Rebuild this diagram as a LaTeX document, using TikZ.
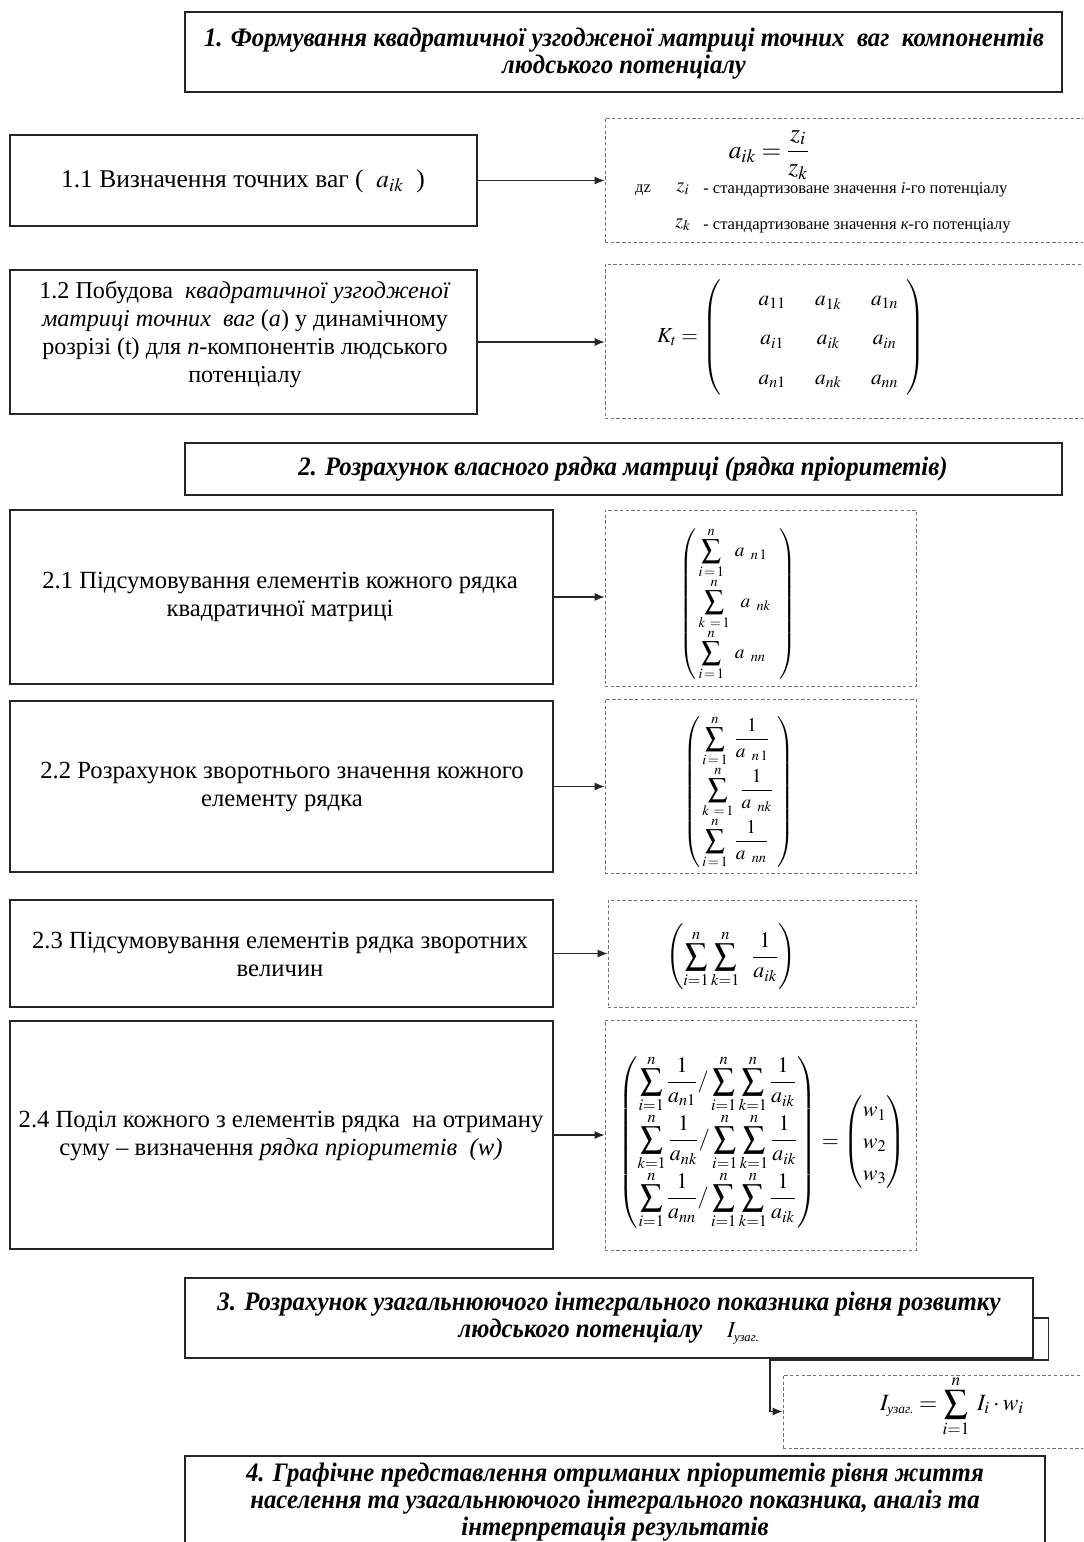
\documentclass[tikz,border=0pt]{standalone}
\usepackage{amsmath}
\usepackage{mathptmx}
\usepackage{fontspec}
\setmainfont{Liberation Serif}
\newfontfamily\bodyfont[Ligatures=TeX]{Liberation Serif}
\newfontfamily\hdfont[FakeStretch=0.93,Ligatures=TeX]{Liberation Serif}
\usetikzlibrary{arrows.meta,fit}
\tikzset{
  box/.style={draw=black!85, line width=0.9pt, inner sep=0pt},
  dbox/.style={draw=black!55, dash pattern=on 2.5pt off 1.8pt, line width=0.6pt, inner sep=0pt},
  arr/.style={-{Latex[length=7.5pt,width=6pt]}, line width=0.8pt, draw=black!85},
  hd/.style={align=center, inner sep=0pt, font=\hdfont\bfseries\itshape\fontsize{20}{20.25}\selectfont},
  bt/.style={align=center, inner sep=0pt, font=\bodyfont\fontsize{18.5}{21}\selectfont},
  sm/.style={font=\bodyfont\fontsize{12.4}{14}\selectfont, inner sep=0pt},
  fm/.style={inner sep=0pt, font=\bodyfont\fontsize{15}{18}\selectfont}
}
\begin{document}
\begin{tikzpicture}[x=0.75pt,y=-0.75pt]
\clip (0,0) rectangle (1083,1542);
\fill[white] (0,0) rectangle (1083,1542);

% ---- Header 1
\node[box, fit={(185,12) (1062,92)}] (h1) {};
\node[hd] (h1t) at (624,53.5) {1. Формування квадратичної узгодженої матриці точних\ \ ваг\ \ компонентів\\людського потенціалу};

% ---- 1.1
\node[box, fit={(10,135) (477,226)}] (b11) {};
\node[bt, font=\bodyfont\fontsize{19.1}{22}\selectfont] (b11t) at (243,181) {1.1 Визначення точних ваг (\ \ $a_{ik}$\ \ )};
\node[dbox, fit={(605,118) (1090,242)}] (d11) {};
\node[fm, font=\bodyfont\fontsize{19}{22}\selectfont] (f11) at (769,155) {$a_{ik}=\dfrac{z_i}{z_k}$};
\node[sm] (de) at (643,190) {дz};
\node[fm] (zi) at (683,189) {$z_i$};
\node[sm, anchor=west] (t1) at (703,190) {- стандартизоване значення \textit{i}-го потенціалу};
\node[fm] (zk) at (683,225) {$z_k$};
\node[sm, anchor=west] (t2) at (703,226) {- стандартизоване значення \textit{к}-го потенціалу};

% ---- 1.2
\node[box, fit={(10,270) (477,414)}] (b12) {};
\node[bt, font=\bodyfont\fontsize{18.1}{21}\selectfont] (b12t) at (245,334) {1.2 Побудова\ \ \textit{квадратичної узгодженої}\\\textit{матриці точних\ \ ваг} (\textit{а}) у динамічному\\розрізі (t) для \textit{n}-компонентів людського\\потенціалу};
\node[dbox, fit={(605,264) (1090,418)}] (d12) {};
\node[fm, font=\bodyfont\fontsize{16}{19}\selectfont] (f12) at (791,337) {$K_t=\left(\renewcommand{\arraystretch}{1.55}\begin{array}{@{\hspace{28pt}}c@{\hspace{22pt}}c@{\hspace{22pt}}c@{\hspace{6pt}}}a_{11}&a_{1k}&a_{1n}\\a_{i1}&a_{ik}&a_{in}\\a_{n1}&a_{nk}&a_{nn}\end{array}\right)$};

% ---- Header 2
\node[box, fit={(185,443) (1062,495)}] (h2) {};
\node[hd] (h2t) at (623,469) {2. Розрахунок власного рядка матриці (рядка пріоритетів)};

% ---- 2.1
\node[box, fit={(10,510) (553,684)}] (b21) {};
\node[bt] (b21t) at (280,597) {2.1 Підсумовування елементів кожного рядка\\квадратичної матриці};
\node[dbox, fit={(605,510) (916,686)}] (d21) {};
\node[fm, font=\bodyfont\fontsize{14.5}{17}\selectfont] (f21) at (738,604) {$\left(\renewcommand{\arraystretch}{1.15}\begin{array}{@{\,}l@{\;\;}}\displaystyle\sum_{i\,=\,1}^{n}\;\; a_{\;\;n\,1}\\[7pt]\displaystyle\sum_{k\;\,=\,1}^{n}\;\; a_{\;\;nk}\\[7pt]\displaystyle\sum_{i\,=\,1}^{n}\;\; a_{\;\;nn}\end{array}\right)$};

% ---- 2.2
\node[box, fit={(10,701) (553,872)}] (b22) {};
\node[bt] (b22t) at (282,787) {2.2 Розрахунок зворотнього значення кожного\\елементу рядка};
\node[dbox, fit={(605,699) (916,873)}] (d22) {};
\node[fm, font=\bodyfont\fontsize{14.5}{17}\selectfont] (f22) at (739,792) {$\left(\renewcommand{\arraystretch}{1.0}\begin{array}{@{\,}l@{\;}}\displaystyle\sum_{i\,=\,1}^{n}\;\dfrac{1}{a_{\;\;n\,1}}\\[4pt]\displaystyle\sum_{k\;\,=\,1}^{n}\;\dfrac{1}{a_{\;\;nk}}\\[4pt]\displaystyle\sum_{i\,=\,1}^{n}\;\dfrac{1}{a_{\;\;nn}}\end{array}\right)$};

% ---- 2.3
\node[box, fit={(10,900) (553,1007)}] (b23) {};
\node[bt] (b23t) at (280,954) {2.3 Підсумовування елементів рядка зворотних\\величин};
\node[dbox, fit={(608,900) (916,1007)}] (d23) {};
\node[fm, font=\bodyfont\fontsize{16.5}{19}\selectfont] (f23) at (731,957) {$\left(\displaystyle\sum_{i=1}^{n}\sum_{k=1}^{n}\;\;\dfrac{1}{a_{ik}}\right)$};

% ---- 2.4
\node[box, fit={(10,1021) (553,1249)}] (b24) {};
\node[bt] (b24t) at (281,1136) {2.4 Поділ кожного з елементів рядка\ \ на отриману\\суму – визначення \textit{рядка пріоритетів\ \ (w)}};
\node[dbox, fit={(605,1020) (916,1250)}] (d24) {};
\node[fm, font=\bodyfont\fontsize{16.5}{19}\selectfont] (f24) at (762,1142) {$\left(\renewcommand{\arraystretch}{1.0}\begin{array}{@{}c@{}}\displaystyle\sum_{i=1}^{n}\frac{1}{a_{n1}}/\sum_{i=1}^{n}\sum_{k=1}^{n}\frac{1}{a_{ik}}\\[7pt]\displaystyle\sum_{k=1}^{n}\frac{1}{a_{nk}}/\sum_{i=1}^{n}\sum_{k=1}^{n}\frac{1}{a_{ik}}\\[7pt]\displaystyle\sum_{i=1}^{n}\frac{1}{a_{nn}}/\sum_{i=1}^{n}\sum_{k=1}^{n}\frac{1}{a_{ik}}\end{array}\right)=\left(\renewcommand{\arraystretch}{1.25}\begin{array}{@{}c@{}}w_1\\w_2\\w_3\end{array}\right)$};

% ---- Header 3
\node[box, fit={(185,1278) (1033,1358)}] (h3) {};
\node[hd] (h3t) at (609,1318) {3. Розрахунок узагальнюючого інтегрального показника рівня розвитку\\людського потенціалу\ \ \ \ {\normalfont\bodyfont\fontsize{17}{19}\selectfont$I_{\text{\itshape\fontsize{9.5}{10}\selectfont узаг.}}$}};
\node[dbox, fit={(783,1375) (1090,1448)}] (dI) {};
\node[fm, font=\bodyfont\fontsize{17.5}{20}\selectfont] (fI) at (952,1406) {$I_{\text{\itshape\fontsize{10}{11}\selectfont узаг.}}=\displaystyle\sum_{i=1}^{n}\;I_i\cdot w_i$};

% ---- Header 4
\node[box, fit={(185,1456) (1045,1570)}] (h4) {};
\node[hd] (h4t) at (615,1502) {4. Графічне представлення отриманих пріоритетів рівня життя\\населення та узагальнюючого інтегрального показника, аналіз та\\інтерпретація результатів};

% ---- connectors
\draw[arr] (b11.east) -- (b11.east -| d11.west);
\draw[arr] (b12.east) -- (b12.east -| d12.west);
\draw[arr] (b21.east) -- (b21.east -| d21.west);
\draw[arr] (b22.east) -- (b22.east -| d22.west);
\draw[arr] (b23.east) -- (b23.east -| d23.west);
\draw[arr] (b24.east) -- (b24.east -| d24.west);
\draw[arr] (h3.east) -- ++(15,0) |- (770,1360) |- (dI.west);
\end{tikzpicture}
\end{document}
